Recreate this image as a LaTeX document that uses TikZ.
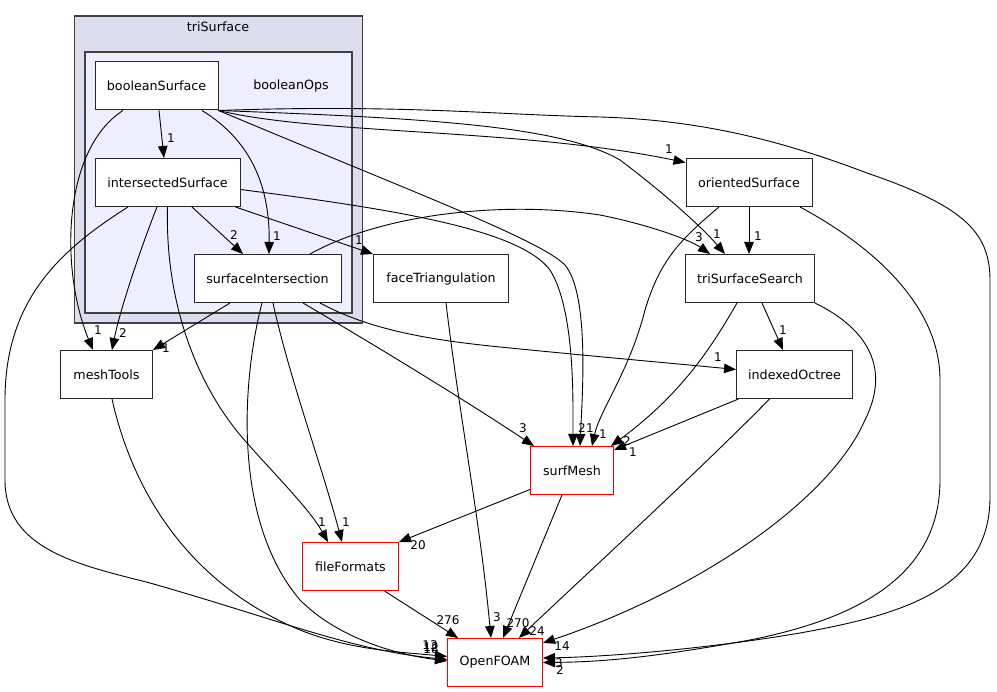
\documentclass[tikz,border=0pt]{standalone}
\usepackage{fontspec}
\setmainfont{DejaVu Sans}
\usetikzlibrary{arrows.meta}
\definecolor{clustout}{RGB}{221,221,238}
\definecolor{clustin}{RGB}{238,238,255}
\definecolor{clustline}{RGB}{64,64,64}

\begin{document}
\begin{tikzpicture}[x=1pt,y=-1pt,font=\fontsize{12.7}{15}\selectfont,
box/.style={draw=black!85,line width=1pt,fill=white,minimum height=48pt,inner sep=2pt},
hub/.style={box,draw=red},
clus/.style={draw=clustline,line width=1.5pt,inner sep=0pt},
dep/.style={-{Triangle[length=12pt,width=9.5pt]},line width=.9pt},
lbl/.style={font=\fontsize{12}{14}\selectfont,inner sep=0pt}]
\useasboundingbox(0,0)rectangle(997,692);

% clusters
\node[clus,fill=clustout,minimum width=288pt,minimum height=307pt](tri)at(218.5,169.5){};
\node[clus,fill=clustin,minimum width=267pt,minimum height=261pt](bops)at(218.5,182.5){};
\node(tritxt)at(218,27){triSurface};
\node(bopstxt)at(291,86){booleanOps};

% directories
\node[box,minimum width=123pt](bool)at(156.5,86){booleanSurface};
\node[box,minimum width=145pt](inter)at(167.5,182.5){intersectedSurface};
\node[box,minimum width=147pt](isect)at(267.5,278.5){surfaceIntersection};
\node[box,minimum width=135pt](facetri)at(441,278.5){faceTriangulation};
\node[box,minimum width=126pt](orient)at(749,182.5){orientedSurface};
\node[box,minimum width=129pt](search)at(750,278.5){triSurfaceSearch};
\node[box,minimum width=116pt](octree)at(794.5,374.5){indexedOctree};
\node[box,minimum width=92pt](mesh)at(106.5,374.5){meshTools};
\node[hub,minimum width=83pt](surf)at(572,470.5){surfMesh};
\node[hub,minimum width=96pt](files)at(350.5,566.5){fileFormats};
\node[hub,minimum width=95pt](foam)at(495,662.5){OpenFOAM};

% booleanSurface
\draw[dep]([xshift=2.5]bool.south)--([xshift=-3.5]inter.north);
\draw[dep]([xshift=45.5]bool.south)..controls(250,140)and(270,185)..([xshift=1.5]isect.north);
\draw[dep]([xshift=-33.5]bool.south)..controls(62,150)and(60,270)..([xshift=-13.5]mesh.north);
\draw[dep](bool.south east)..controls(320,135)and(520,128)..([yshift=20]orient.west);
\draw[dep](bool.south east)..controls(420,118)and(560,125)..(620,160)..controls(660,190)and(700,225)..([xshift=-25]search.north);
\draw[dep](bool.south east)..controls(420,195)and(540,240)..(565,265)..controls(590,295)and(582,400)..([xshift=8]surf.north);
\draw[dep](bool.south east)..controls(400,104)and(500,115)..(600,117)..controls(700,120)and(780,140)..(867,173)
  ..controls(960,205)and(990,230)..(990,280)--(990,497)..controls(990,590)and(900,615)..(800,633)
  ..controls(700,650)and(600,657)..([yshift=4.5]foam.east);

% intersectedSurface
\draw[dep]([xshift=24.5]inter.south)--([xshift=-24.5]isect.north);
\draw[dep]([xshift=-10.5]inter.south)..controls(140,250)and(120,310)..([xshift=5.5]mesh.north);
\draw[dep](inter.south)..controls(165,300)and(195,385)..(247,443)..controls(280,480)and(310,510)..([xshift=-22.5]files.north);
\draw[dep]([xshift=-5]inter.south east)--(facetri.north west);
\draw[dep]([xshift=-39.5]inter.south)..controls(60,250)and(5,300)..(5,400)--(5,480)..controls(5,550)and(80,565)..(150,583)
  ..controls(280,620)and(350,650)..([yshift=3]foam.west);
\draw[dep]([yshift=-7]inter.east)..controls(400,210)and(520,230)..(550,270)..controls(575,310)and(573,400)..([xshift=1]surf.north);

% surfaceIntersection
\draw[dep]([xshift=-37.5]isect.south)--(mesh.north east);
\draw[dep]([xshift=42.5]isect.north)..controls(380,215)and(500,200)..(600,215)..controls(650,225)and(690,240)..([xshift=-40]search.north);
\draw[dep]([xshift=5.5]isect.south)..controls(290,380)and(320,460)..([xshift=-8.5]files.north);
\draw[dep]([xshift=35.5]isect.south)..controls(400,360)and(480,410)..([xshift=4]surf.north west);
\draw[dep]([xshift=52.5]isect.south)..controls(370,330)and(430,340)..(500,347)..controls(600,357)and(680,364)..([yshift=5]octree.west);
\draw[dep]([xshift=-5.5]isect.south)..controls(242,380)and(232,520)..(300,600)..controls(340,640)and(400,655)..([yshift=1.5]foam.west);

% faceTriangulation
\draw[dep]([xshift=5]facetri.south)..controls(460,420)and(480,520)..([xshift=-4]foam.north);

% orientedSurface
\draw[dep](orient.south)--([xshift=-1]search.north);
\draw[dep]([xshift=-30]orient.south)..controls(680,240)and(660,260)..(645,310)..controls(630,370)and(600,410)..([xshift=20]surf.north);
\draw[dep]([xshift=51]orient.south)..controls(880,250)and(940,310)..(940,380)--(940,480)..controls(940,580)and(850,620)..(750,640)
  ..controls(650,658)and(600,662)..(foam.east);

% triSurfaceSearch
\draw[dep]([xshift=12]search.south)--([xshift=-11.5]octree.north);
\draw[dep]([xshift=-13]search.south)..controls(710,350)and(680,395)..([xshift=-3]surf.north east);
\draw[dep](search.south east)..controls(870,330)and(890,370)..(865,420)..controls(830,500)and(700,590)..([yshift=19.5]foam.east);

% indexedOctree
\draw[dep]([xshift=-56]octree.south)--([yshift=-4]surf.north east);
\draw[dep]([xshift=-25]octree.south)..controls(700,470)and(580,580)..([xshift=24]foam.north);

% the rest
\draw[dep]([xshift=5.5]mesh.south)..controls(130,480)and(180,580)..(300,630)..controls(350,650)and(400,652)..([yshift=6]foam.west);
\draw[dep]([yshift=-19]surf.west)--(files.north east);
\draw[dep]([xshift=-10]surf.south)--([xshift=8]foam.north);
\draw[dep]([xshift=34]files.south)--([xshift=-37]foam.north);

% edge counts
\node[lbl](nbi)at(171,138){1};
\node[lbl](nbs)at(277,236){1};
\node[lbl](nbm)at(98,330){1};
\node[lbl](nbo)at(669,149){1};
\node[lbl](nbt)at(717,234){1};
\node[lbl](nbf)at(590,428){1};
\node[lbl](nbx)at(560,670){2};
\node[lbl](nis)at(234,235){2};
\node[lbl](nim)at(123,333){2};
\node[lbl](nif)at(322,522){1};
\node[lbl](nit)at(359,240){1};
\node[lbl](nix)at(430,645){13};
\node[lbl](niu)at(582,428){2};
\node[lbl](nsm)at(166,348){1};
\node[lbl](nst)at(699,237){3};
\node[lbl](nsf)at(346,522){1};
\node[lbl](nsu)at(523,428){3};
\node[lbl](nso)at(718,357){1};
\node[lbl](nsx)at(431,647){12};
\node[lbl](nfx)at(497,617){3};
\node[lbl](not)at(758,236){1};
\node[lbl](nou)at(603,434){1};
\node[lbl](nox)at(559,663){3};
\node[lbl](nto)at(783,330){1};
\node[lbl](ntu)at(627,441){2};
\node[lbl](ntx)at(562,646){14};
\node[lbl](nou2)at(633,452){1};
\node[lbl](nox2)at(537,631){24};
\node[lbl](nmx)at(431,649){18};
\node[lbl](nuf)at(418,545){20};
\node[lbl](nux)at(518,623){270};
\node[lbl](nfx2)at(448,620){276};
\end{tikzpicture}
\end{document}
